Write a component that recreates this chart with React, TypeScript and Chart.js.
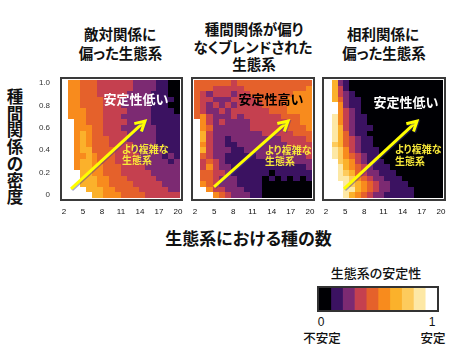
import React, { useEffect, useRef } from "react";
import { Chart, registerables } from "chart.js";

Chart.register(...registerables);

// ---------------- data ----------------
const SPECIES = [2, 3, 4, 5, 6, 7, 8, 9, 10, 11, 12, 13, 14, 15, 16, 17, 18, 19, 20];
const DENSITY = [0, 0.05, 0.1, 0.15, 0.2, 0.25, 0.3, 0.35, 0.4, 0.45, 0.5, 0.55, 0.6, 0.65, 0.7, 0.75, 0.8, 0.85, 0.9, 0.95, 1.0];
const X_TICKS = [2, 5, 8, 11, 14, 17, 20];
const Y_TICKS = [0, 0.2, 0.4, 0.6, 0.8, 1.0];
// stability classes 0 (unstable) .. 9 (stable)
const STABILITY_COLORS = [
  "#000004", "#3b1261", "#7c2a72", "#c5404f", "#e5612b",
  "#f88b1d", "#fbb12b", "#fdcb5c", "#fde8a5", "#ffffff",
];

// rows: density 1.0 (top) -> 0 (bottom); columns: species 2..20; "." = no data
const ANTAGONISTIC = [
  "5544433333322221100",
  "5544433333322221100",
  "5544433333222211100",
  "5544443332222211110",
  "5544443332222211100",
  "5554443333222211110",
  "5554443332222211111",
  ".554443333222211111",
  ".555443332222221111",
  ".565443333222221111",
  ".565444333222221111",
  ".565444333322221111",
  ".566444433322222111",
  ".556544433332222121",
  ".566544433332222212",
  ".566554443333222222",
  "..66554443333322222",
  "..66655444333332222",
  "..66655444433333222",
  "...6665544443333322",
  "....665554444333333",
];

const BLENDED = [
  "4444443444444444444",
  "4443333344444444445",
  "4323332334444444555",
  "4332223333444445555",
  "4323232333344445555",
  "4322323333334445555",
  "4532223233333344455",
  ".532322223333334455",
  ".542222223333334445",
  ".632222222233333444",
  ".632212222222233334",
  ".532211222222223333",
  ".632221122222222233",
  ".432211111222222223",
  ".343211111111122222",
  ".353221111111111112",
  ".443321111110111111",
  ".443222111101010101",
  ".543222111100000000",
  "..53322211100000000",
  "...5432221100000000",
];

const MUTUALISTIC = [
  "6210000000000000000",
  "6310000000000000000",
  "6321000000000000000",
  "6421100000000000000",
  ".521100000000000000",
  ".532100000000000000",
  "8532110000000000000",
  "8532110000000000000",
  "8632111000000000000",
  "8642110000000000000",
  "8643211000000000000",
  "7643211000000000000",
  "8753211100000000000",
  "8754321100000000000",
  ".765321110000000000",
  ".865432111000000000",
  ".876432211100000000",
  ".887543221110000000",
  "..87654322111000000",
  "..88654322111100000",
  "..86543221111100000",
];

// ---------------- helpers ----------------
const JP = '"Noto Sans CJK JP", "Noto Sans", sans-serif';
const LAT = '"Liberation Sans", Arial, sans-serif';

type Cell = { x: number; y: number; v: number };

function toCells(rows: string[]): Cell[] {
  const out: Cell[] = [];
  rows.forEach((row, r) => {
    const d = DENSITY[DENSITY.length - 1 - r];
    Array.from(row).forEach((ch, c) => {
      if (ch === ".") return;
      out.push({ x: SPECIES[c], y: d, v: (Number(ch) + 0.5) / STABILITY_COLORS.length });
    });
  });
  return out;
}

function colorFor(v: number) {
  const n = STABILITY_COLORS.length;
  return STABILITY_COLORS[Math.max(0, Math.min(n - 1, Math.floor(v * n)))];
}

const heatmapPlugin = {
  id: "heatmap",
  beforeDatasetsDraw(chart: any) {
    const { ctx } = chart;
    const xs = chart.scales.x;
    const ys = chart.scales.y;
    const hx = (SPECIES[1] - SPECIES[0]) / 2;
    const hy = (DENSITY[1] - DENSITY[0]) / 2;
    ctx.save();
    for (const p of chart.data.datasets[0].data as Cell[]) {
      const x0 = Math.round(xs.getPixelForValue(p.x - hx));
      const x1 = Math.round(xs.getPixelForValue(p.x + hx));
      const y0 = Math.round(ys.getPixelForValue(p.y + hy));
      const y1 = Math.round(ys.getPixelForValue(p.y - hy));
      ctx.fillStyle = colorFor(p.v);
      ctx.fillRect(x0, y0, x1 - x0, y1 - y0);
    }
    ctx.restore();
  },
};

const framePlugin = {
  id: "frame",
  afterDraw(chart: any, _args: any, opts: any) {
    const { ctx, chartArea: a } = chart;
    const o = opts && typeof opts.offset === "number" ? opts.offset : 1;
    ctx.save();
    ctx.strokeStyle = (opts && opts.color) || "#3a3a3a";
    ctx.lineWidth = 2;
    ctx.strokeRect(a.left + o, a.top + o, a.right - a.left - 2 * o, a.bottom - a.top - 2 * o);
    ctx.restore();
  },
};

const arrowPlugin = {
  id: "arrow",
  afterDatasetsDraw(chart: any, _args: any, opts: any) {
    if (!opts || !opts.from) return;
    const { ctx } = chart;
    const xs = chart.scales.x;
    const ys = chart.scales.y;
    const x0 = xs.getPixelForValue(opts.from[0]);
    const y0 = ys.getPixelForValue(opts.from[1]);
    const x1 = xs.getPixelForValue(opts.to[0]);
    const y1 = ys.getPixelForValue(opts.to[1]);
    const ang = Math.atan2(y1 - y0, x1 - x0);
    const hl = 11;
    const spread = 0.5;
    ctx.save();
    ctx.strokeStyle = "#ffff00";
    ctx.lineWidth = 3;
    ctx.lineCap = "butt";
    ctx.lineJoin = "miter";
    ctx.shadowColor = "rgba(60,60,150,0.45)";
    ctx.shadowOffsetX = 1;
    ctx.shadowOffsetY = 1;
    ctx.beginPath();
    ctx.moveTo(x0, y0);
    ctx.lineTo(x1 - Math.cos(ang) * 1.5, y1 - Math.sin(ang) * 1.5);
    ctx.stroke();
    ctx.beginPath();
    ctx.moveTo(x1 - hl * Math.cos(ang - spread), y1 - hl * Math.sin(ang - spread));
    ctx.lineTo(x1, y1);
    ctx.lineTo(x1 - hl * Math.cos(ang + spread), y1 - hl * Math.sin(ang + spread));
    ctx.stroke();
    ctx.restore();
  },
};

type PanelCfg = {
  rows: string[];
  boxL: number;
  boxR: number;
  xMin: number;
  xMax: number;
  arrowFrom: [number, number];
  arrowTo: [number, number];
  showY: boolean;
};

const BOX_TOP = 77;
const BOX_BOTTOM = 201;
const Y_AXIS_W = 30;
const X_AXIS_H = 16;

const PANELS: PanelCfg[] = [
  { rows: ANTAGONISTIC, boxL: 60, boxR: 183, xMin: 0.143, xMax: 21.01, arrowFrom: [2.01, 0.056], arrowTo: [14.56, 0.66], showY: true },
  { rows: BLENDED, boxL: 191, boxR: 315, xMin: 1.017, xMax: 20.983, arrowFrom: [4.72, 0.073], arrowTo: [16.64, 0.66], showY: false },
  { rows: MUTUALISTIC, boxL: 322, boxR: 446, xMin: -0.155, xMax: 21.01, arrowFrom: [3.6, 0.056], arrowTo: [16.06, 0.66], showY: false },
];

function Panel({ cfg }: { cfg: PanelCfg }) {
  const ref = useRef<HTMLCanvasElement>(null);
  const padL = cfg.showY ? 0 : 3;
  const left = cfg.boxL - (cfg.showY ? Y_AXIS_W : padL);
  const top = BOX_TOP - 2;
  const width = cfg.boxR + 3 - left;
  const height = BOX_BOTTOM - top + X_AXIS_H;

  useEffect(() => {
    const chart = new Chart(ref.current as HTMLCanvasElement, {
      type: "scatter",
      data: {
        datasets: [
          { data: toCells(cfg.rows) as any, pointRadius: 0, pointHoverRadius: 0, xAxisID: "x", yAxisID: "y" },
        ],
      },
      options: {
        animation: false,
        responsive: false,
        events: [],
        layout: { padding: { left: padL, right: 3, top: 2, bottom: 0 } },
        plugins: {
          legend: { display: false },
          tooltip: { enabled: false },
          arrow: { from: cfg.arrowFrom, to: cfg.arrowTo },
          frame: { offset: 1, color: "#3a3a3a" },
        } as any,
        scales: {
          x: { type: "linear", min: cfg.xMin, max: cfg.xMax, display: false },
          xl: {
            type: "linear",
            position: "bottom",
            min: 1.37,
            max: 20.79,
            grid: { display: false, drawTicks: false },
            border: { display: false },
            ticks: { font: { size: 8, family: LAT }, color: "#111", padding: 6, autoSkip: false, maxRotation: 0, minRotation: 0 },
            afterBuildTicks: (s: any) => { s.ticks = X_TICKS.map((value) => ({ value })); },
            afterFit: (s: any) => { s.height = X_AXIS_H; s.paddingLeft = 0; s.paddingRight = 0; },
          },
          y: {
            type: "linear",
            position: "left",
            min: -0.052,
            max: 1.052,
            display: cfg.showY,
            grid: { display: false, drawTicks: false },
            border: { display: false },
            ticks: {
              font: { size: 8, family: LAT },
              color: "#333",
              padding: 10,
              autoSkip: false,
              callback: (v: any) => (Number(v) === 0 ? "0" : Number(v).toFixed(1)),
            },
            afterBuildTicks: (s: any) => { s.ticks = Y_TICKS.map((value) => ({ value })); },
            afterFit: (s: any) => {
              s.width = cfg.showY ? Y_AXIS_W : 0;
              s.paddingTop = 0;
              s.paddingBottom = 0;
            },
          },
        } as any,
      },
      plugins: [heatmapPlugin, arrowPlugin, framePlugin],
    });
    return () => chart.destroy();
  }, []);

  return (
    <canvas
      ref={ref}
      width={width}
      height={height}
      style={{ position: "absolute", left, top, width, height }}
    />
  );
}

function ColorBar() {
  const ref = useRef<HTMLCanvasElement>(null);
  const left = 316, top = 285, width = 124, height = 28;
  useEffect(() => {
    const chart = new Chart(ref.current as HTMLCanvasElement, {
      type: "bar",
      data: {
        labels: [""],
        datasets: STABILITY_COLORS.map((c) => ({
          data: [1 / STABILITY_COLORS.length],
          backgroundColor: c,
          borderWidth: 0,
          barPercentage: 1,
          categoryPercentage: 1,
        })),
      },
      options: {
        indexAxis: "y",
        animation: false,
        responsive: false,
        events: [],
        layout: { padding: 3 },
        plugins: {
          legend: { display: false },
          tooltip: { enabled: false },
          frame: { offset: -1, color: "#333" },
        } as any,
        scales: {
          x: { stacked: true, min: 0, max: 1, display: false },
          y: { stacked: true, display: false },
        },
      },
      plugins: [framePlugin],
    });
    return () => chart.destroy();
  }, []);
  return (
    <canvas ref={ref} width={width} height={height} style={{ position: "absolute", left, top, width, height }} />
  );
}

function T({
  x, y, text, size, weight = 700, color = "#111", anchor = "center", family = JP,
}: {
  x: number; y: number; text: string; size: number; weight?: number; color?: string; anchor?: "center" | "left"; family?: string;
}) {
  return (
    <div
      style={{
        position: "absolute",
        left: x,
        top: y,
        transform: anchor === "center" ? "translate(-50%, -50%)" : "translate(0, -50%)",
        fontFamily: family,
        fontSize: size,
        fontWeight: weight,
        color,
        lineHeight: 1,
        whiteSpace: "nowrap",
        fontFeatureSettings: '"palt"',
      }}
    >
      {text}
    </div>
  );
}

export default function App() {
  const yTitle = "種間関係の密度";
  return (
    <div style={{ position: "absolute", left: 0, top: 0, width: 457, height: 353, background: "#fff", overflow: "hidden" }}>
      {PANELS.map((p, i) => (
        <Panel key={i} cfg={p} />
      ))}
      <ColorBar />

      {/* panel titles */}
      <T x={120} y={34} text="敵対関係に" size={14.5} />
      <T x={120.5} y={53} text="偏った生態系" size={14.5} />
      <T x={254} y={29} text="種間関係が偏り" size={14.5} />
      <T x={253} y={47} text="なくブレンドされた" size={14.5} />
      <T x={254} y={64} text="生態系" size={14.5} />
      <T x={383} y={34} text="相利関係に" size={14.5} />
      <T x={384} y={53} text="偏った生態系" size={14.5} />

      {/* axis titles */}
      <div
        style={{
          position: "absolute",
          left: 15,
          top: 146,
          transform: "translate(-50%, -50%)",
          fontFamily: JP,
          fontSize: 16.5,
          fontWeight: 700,
          color: "#111",
          display: "flex",
          flexDirection: "column",
          alignItems: "center",
          lineHeight: "16.7px",
        }}
      >
        {Array.from(yTitle).map((ch, i) => (
          <span key={i}>{ch}</span>
        ))}
      </div>
      <T x={248.5} y={237} text="生態系における種の数" size={17} />

      {/* in-panel annotations */}
      <T x={136} y={98} text="安定性低い" size={13} color="#ffffff" />
      <T x={271} y={98} text="安定性高い" size={13} color="#000000" />
      <T x={406} y={101} text="安定性低い" size={13} color="#ffffff" />
      <T x={122} y={149} text="より複雑な" size={10} color="#f7e839" anchor="left" />
      <T x={122} y={160} text="生態系" size={10} color="#f7e839" anchor="left" />
      <T x={265} y={150} text="より複雑な" size={10} color="#f7e839" anchor="left" />
      <T x={265} y={161} text="生態系" size={10} color="#f7e839" anchor="left" />
      <T x={395} y={149} text="より複雑な" size={10} color="#f7e839" anchor="left" />
      <T x={395} y={161} text="生態系" size={10} color="#f7e839" anchor="left" />

      {/* colour bar legend texts */}
      <T x={376} y={272} text="生態系の安定性" size={13} weight={500} />
      <T x={321} y={322} text="0" size={12} weight={400} family={LAT} />
      <T x={432} y={322} text="1" size={12} weight={400} family={LAT} />
      <T x={322} y={338} text="不安定" size={12.5} weight={500} />
      <T x={433} y={338} text="安定" size={12.5} weight={500} />
    </div>
  );
}
